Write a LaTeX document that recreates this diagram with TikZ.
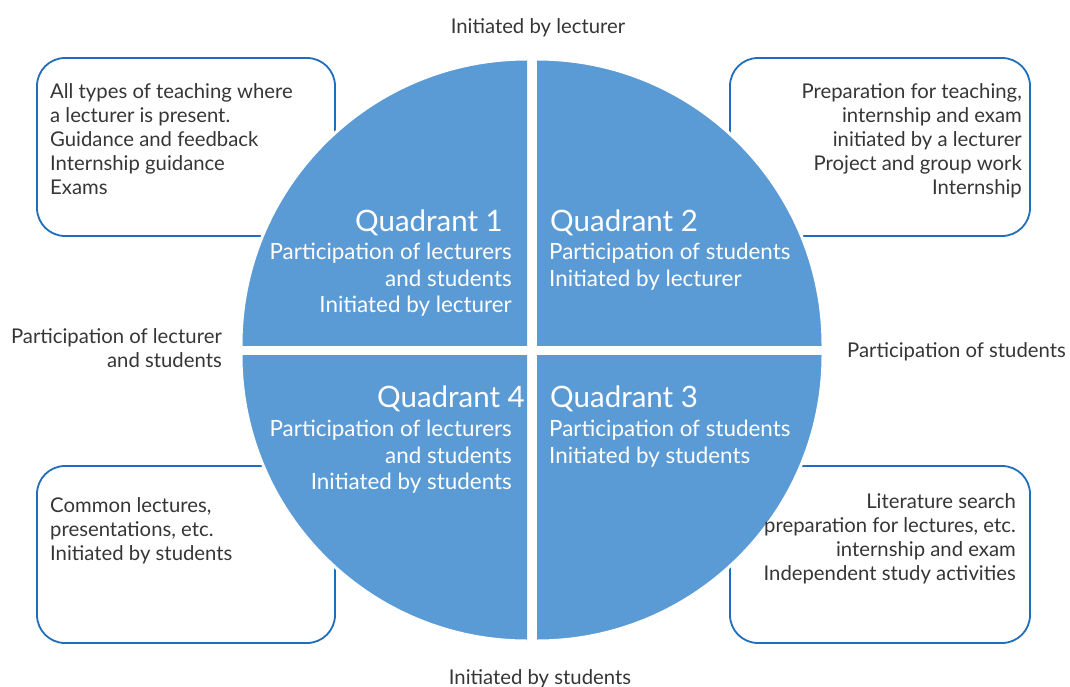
\documentclass[tikz,border=0pt]{standalone}
\usepackage{fontspec}
\setmainfont{Lato}
\definecolor{qblue}{HTML}{5B9BD5}
\definecolor{bblue}{HTML}{1F6EBB}
\definecolor{txt}{HTML}{363636}
\tikzset{
  box/.style={draw=bblue, line width=1.8pt, rounded corners=28pt, fill=white, inner sep=0pt},
  btext/.style={font=\fontsize{20.3}{24}\selectfont, text=txt, inner sep=0pt},
  qtitle/.style={font=\fontsize{29.5}{34}\selectfont, text=white, inner sep=0pt},
  qtext/.style={font=\fontsize{22.4}{26.5}\selectfont, text=white, inner sep=0pt},
  quad/.style={fill=qblue, draw=white, line width=3pt}
}
\begin{document}
\begin{tikzpicture}[x=1pt,y=-1pt]
\useasboundingbox[fill=white] (0,0) rectangle (1070,687);
% boxes
\node[box, minimum width=298pt, minimum height=178pt] (b1) at (186,147) {};
\node[box, minimum width=300pt, minimum height=178pt] (b2) at (880,147) {};
\node[box, minimum width=298pt, minimum height=177pt] (b4) at (186,554.5) {};
\node[box, minimum width=300pt, minimum height=177pt] (b3) at (880,554.5) {};
% quadrants
\begin{scope}\clip (0,0) rectangle (527,345); \path[quad] (527,345) circle (286); \end{scope}
\begin{scope}\clip (537,0) rectangle (1070,345); \path[quad] (537,345) circle (286); \end{scope}
\begin{scope}\clip (0,355) rectangle (527,687); \path[quad] (527,355) circle (286); \end{scope}
\begin{scope}\clip (537,355) rectangle (1070,687); \path[quad] (537,355) circle (286); \end{scope}
% box texts
\node[btext, anchor=north west, align=left] (t1) at (50,83) {All types of teaching where\\a lecturer is present.\\Guidance and feedback\\Internship guidance\\Exams};
\node[btext, anchor=north east, align=right] (t2) at (1022,83) {Preparation for teaching,\\internship and exam\\initiated by a lecturer\\Project and group work\\Internship};
\node[btext, anchor=north west, align=left] (t4) at (50,497) {Common lectures,\\presentations, etc.\\Initiated by students};
\node[btext, anchor=north east, align=right] (t3) at (1016,493) {Literature search\\preparation for lectures, etc.\\internship and exam\\Independent study activities};
% quadrant texts
\node[qtitle, anchor=north east] (q1t) at (503,209.5) {Quadrant 1};
\node[qtext, anchor=north east, align=right] (q1s) at (512,243) {Participation of lecturers\\and students\\Initiated by lecturer};
\node[qtitle, anchor=north west] (q2t) at (550,209.5) {Quadrant 2};
\node[qtext, anchor=north west, align=left] (q2s) at (549,243) {Participation of students\\Initiated by lecturer};
\node[qtitle, anchor=north east] (q4t) at (525,386) {Quadrant 4};
\node[qtext, anchor=north east, align=right] (q4s) at (512,420) {Participation of lecturers\\and students\\Initiated by students};
\node[qtitle, anchor=north west] (q3t) at (550,386) {Quadrant 3};
\node[qtext, anchor=north west, align=left] (q3s) at (549,420) {Participation of students\\Initiated by students};
% outer labels
\node[btext] (top) at (538,28) {Initiated by lecturer};
\node[btext] (bot) at (540,679) {Initiated by students};
\node[btext, anchor=north east, align=right] (left) at (222,328) {Participation of lecturer\\and students};
\node[btext, anchor=west] (right) at (847,352) {Participation of students};
\end{tikzpicture}
\end{document}
